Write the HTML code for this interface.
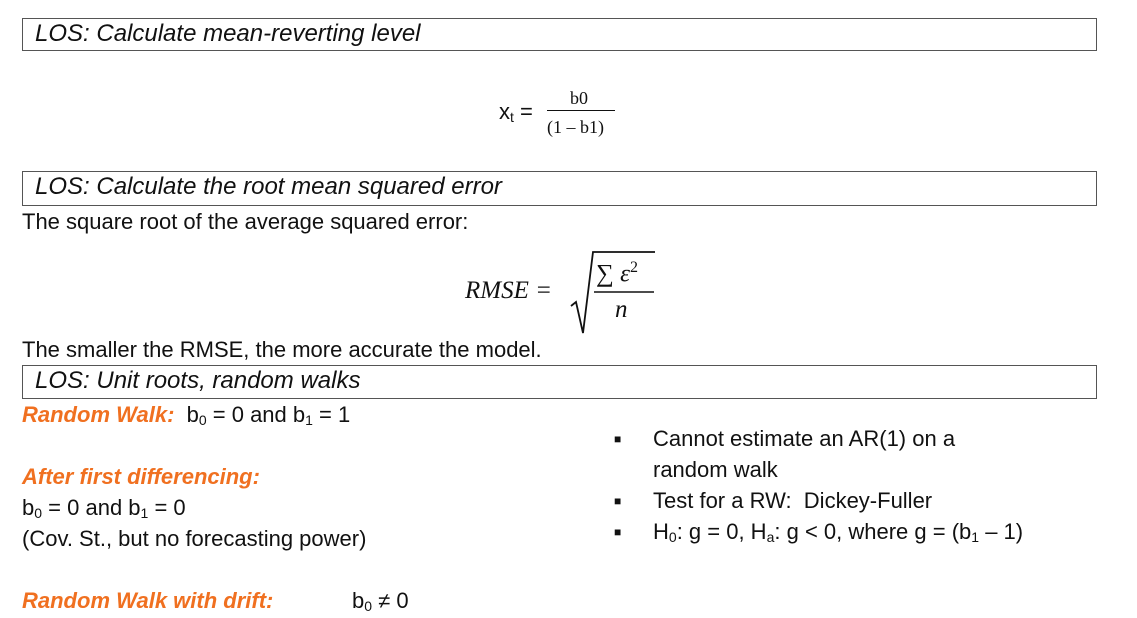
<html><head><style>
body{margin:0;width:1137px;height:618px;background:#fff;position:relative;font-family:"Liberation Sans",sans-serif;color:#111;overflow:hidden}
.box{position:absolute;left:22px;width:1075px;border:1px solid #555;font-style:italic;font-size:24px;padding-left:12px;box-sizing:border-box;line-height:30px}
.t{position:absolute;font-size:22px;white-space:nowrap;line-height:24px}
.o{color:#f07020;font-weight:bold;font-style:italic}
.s{font-family:"Liberation Serif",serif}
sub{font-size:14px;vertical-align:-3px}
</style></head><body>
<div class="box" style="top:18px;height:33px">LOS: Calculate mean-reverting level</div>
<div class="t" style="left:499px;top:100px">x<sub>t</sub> =</div>
<div class="t s" style="left:570px;top:86px;font-size:18px">b0</div>
<div style="position:absolute;left:547px;top:110px;width:68px;border-top:1px solid #111"></div>
<div class="t s" style="left:547px;top:115px;font-size:18px">(1 – b1)</div>
<div class="box" style="top:171px;height:35px">LOS: Calculate the root mean squared error</div>
<div class="t" style="left:22px;top:210px">The square root of the average squared error:</div>
<div class="t s" style="left:465px;top:279px;font-size:25px;font-style:italic">RMSE =</div>
<svg style="position:absolute;left:0;top:0" width="1137" height="618"><polyline points="571,306 576,302 583,333 593,252 655,252" fill="none" stroke="#111" stroke-width="1.8"/><line x1="594" y1="292" x2="654" y2="292" stroke="#111" stroke-width="1.5"/></svg>
<div class="t s" style="left:596px;top:256px;font-size:25px">∑ <i>ε</i><sup style="font-size:16px">2</sup></div>
<div class="t s" style="left:615px;top:298px;font-size:25px;font-style:italic">n</div>
<div class="t" style="left:22px;top:338px">The smaller the RMSE, the more accurate the model.</div>
<div class="box" style="top:365px;height:34px">LOS: Unit roots, random walks</div>
<div class="t" style="left:22px;top:403px"><span class="o">Random Walk:</span>&nbsp; b<sub>0</sub> = 0 and b<sub>1</sub> = 1</div>
<div class="t o" style="left:22px;top:465px">After first differencing:</div>
<div class="t" style="left:22px;top:496px">b<sub>0</sub> = 0 and b<sub>1</sub> = 0</div>
<div class="t" style="left:22px;top:527px">(Cov. St., but no forecasting power)</div>
<div class="t o" style="left:22px;top:589px">Random Walk with drift:</div>
<div class="t" style="left:352px;top:589px">b<sub>0</sub> ≠ 0</div>
<div class="t" style="left:614px;top:427px;font-size:12px">■</div>
<div class="t" style="left:653px;top:427px">Cannot estimate an AR(1) on a</div>
<div class="t" style="left:653px;top:458px">random walk</div>
<div class="t" style="left:614px;top:489px;font-size:12px">■</div>
<div class="t" style="left:653px;top:489px">Test for a RW:&nbsp; Dickey-Fuller</div>
<div class="t" style="left:614px;top:520px;font-size:12px">■</div>
<div class="t" style="left:653px;top:520px">H<sub>0</sub>: g = 0, H<sub>a</sub>: g &lt; 0, where g = (b<sub>1</sub> – 1)</div>
</body></html>
